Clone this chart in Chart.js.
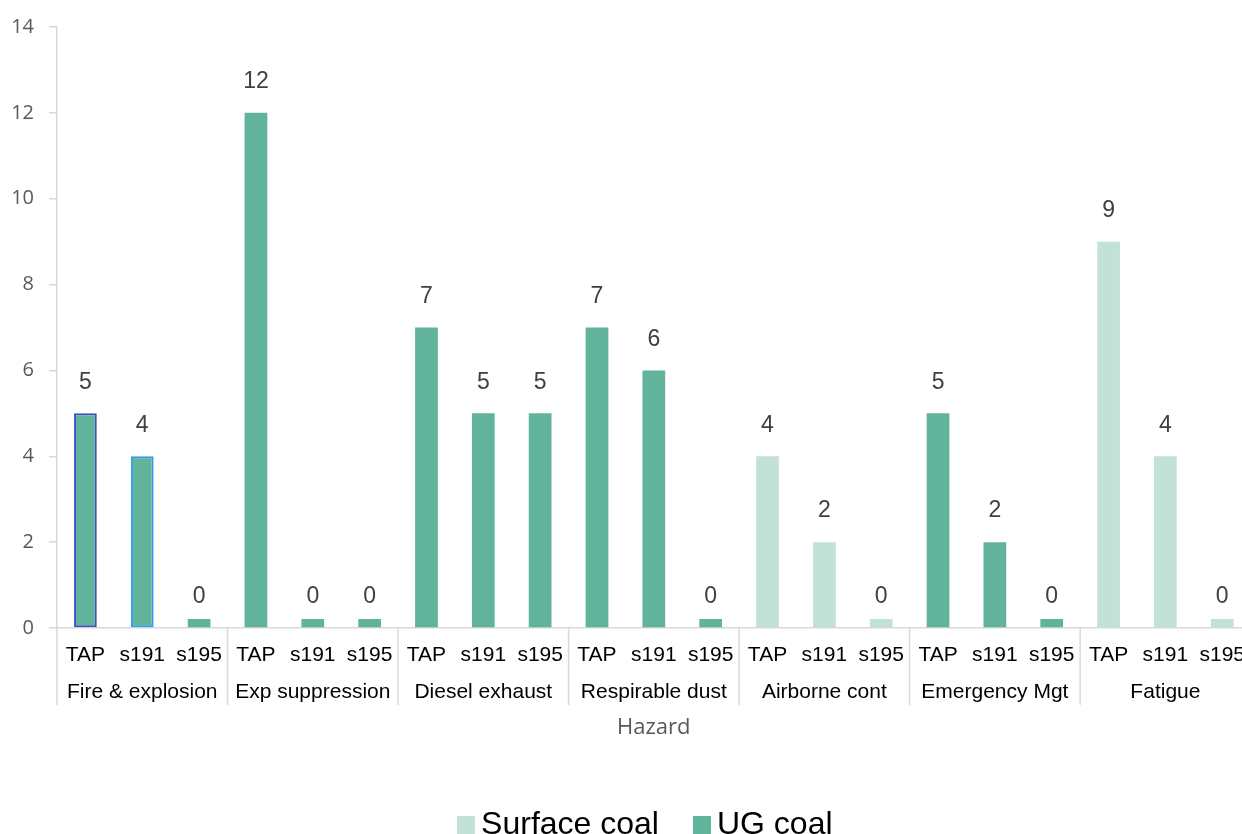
<!DOCTYPE html>
<html>
<head>
<meta charset="utf-8">
<script src="https://cdn.jsdelivr.net/npm/chart.js@4"></script>
<style>
  html, body { margin: 0; padding: 0; background: #fff; overflow: hidden; width: 1242px; height: 834px; }
  canvas { display: block; }
</style>
</head>
<body>
<canvas id="chart" width="1252" height="850"></canvas>
<script>
// Hazard groups and the three sources inside each group
const hazards = ['Fire & explosion', 'Exp suppression', 'Diesel exhaust', 'Respirable dust', 'Airborne cont', 'Emergency Mgt', 'Fatigue'];
const sources = ['TAP', 's191', 's195'];

// Counts per hazard/source; null where the series has no bar
const surfaceCoal = [null, null, null, null, null, null, null, null, null, null, null, null, 4, 2, 0, null, null, null, 9, 4, 0];
const ugCoal      = [5, 4, 0, 12, 0, 0, 7, 5, 5, 7, 6, 0, null, null, null, 5, 2, 0, null, null, null];

const yTicks = [0, 2, 4, 6, 8, 10, 12, 14];

const labels = hazards.flatMap(() => sources);

const SURFACE_COLOR = '#c2e2d8';
const UG_COLOR = '#62b39c';
const AXIS_GREY = '#d9d9d9';
const SANS = '"Liberation Sans", Arial, sans-serif';

// Outline colours for the first two underground bars
const ugBorderColor = ugCoal.map((v, i) => i === 0 ? '#3f4fc0' : (i === 1 ? '#2b9cf0' : UG_COLOR));
const ugBorderWidth = ugCoal.map((v, i) => (i < 2 ? 2 : 0));

// Value labels above every bar
const valueLabels = {
  id: 'valueLabels',
  afterDatasetsDraw(chart) {
    const { ctx, scales: { x, y } } = chart;
    ctx.save();
    ctx.font = '23px ' + SANS;
    ctx.fillStyle = '#404040';
    ctx.textAlign = 'center';
    ctx.textBaseline = 'middle';
    chart.data.datasets.forEach(ds => {
      ds.data.forEach((v, i) => {
        if (v === null) return;
        ctx.fillText(String(v), x.getPixelForValue(i), y.getPixelForValue(v) - 31);
      });
    });
    ctx.restore();
  }
};

// Second row of the category axis: hazard names, dividers, axis title and legend
const hazardAxis = {
  id: 'hazardAxis',
  afterDraw(chart) {
    const { ctx, chartArea, scales: { x } } = chart;
    const step = x.getPixelForValue(1) - x.getPixelForValue(0);
    const bottom = chartArea.bottom;
    ctx.save();
    ctx.strokeStyle = AXIS_GREY;
    ctx.lineWidth = 1.5;
    for (let k = 0; k <= hazards.length; k++) {
      const gx = x.getPixelForValue(3 * k) - step / 2;
      ctx.beginPath();
      ctx.moveTo(gx, bottom);
      ctx.lineTo(gx, bottom + 77);
      ctx.stroke();
    }
    ctx.font = '21px ' + SANS;
    ctx.fillStyle = '#000';
    ctx.textAlign = 'center';
    ctx.textBaseline = 'middle';
    hazards.forEach((h, k) => {
      ctx.fillText(h, x.getPixelForValue(3 * k + 1), bottom + 64);
    });

    // axis title
    ctx.font = '22px "Open Sans", sans-serif';
    ctx.fillStyle = '#595959';
    ctx.fillText('Hazard', (chartArea.left + chartArea.right) / 2, bottom + 100);

    // legend
    ctx.font = '32px ' + SANS;
    ctx.textAlign = 'left';
    ctx.textBaseline = 'alphabetic';
    const box = 18, gapText = 6, gapItem = 34;
    const items = chart.data.datasets.map(ds => ({ text: ds.label, color: ds.backgroundColor }));
    const widths = items.map(it => box + gapText + ctx.measureText(it.text).width);
    const total = widths.reduce((a, b) => a + b, 0) + gapItem * (items.length - 1);
    let lx = (chartArea.left + chartArea.right) / 2 - 9 - total / 2;
    const baseline = bottom + 206;
    items.forEach((it, i) => {
      ctx.fillStyle = it.color;
      ctx.fillRect(lx, baseline - box, box, box);
      ctx.fillStyle = '#000';
      ctx.fillText(it.text, lx + box + gapText, baseline);
      lx += widths[i] + gapItem;
    });
    ctx.restore();
  }
};

new Chart(document.getElementById('chart'), {
  type: 'bar',
  data: {
    labels: labels,
    datasets: [
      {
        label: 'Surface coal',
        data: surfaceCoal,
        backgroundColor: SURFACE_COLOR,
        borderWidth: 0,
        minBarLength: 9
      },
      {
        label: 'UG coal',
        data: ugCoal,
        backgroundColor: UG_COLOR,
        borderColor: ugBorderColor,
        borderWidth: ugBorderWidth,
        borderSkipped: false,
        minBarLength: 9
      }
    ]
  },
  options: {
    responsive: false,
    animation: false,
    devicePixelRatio: 1,
    layout: { padding: { top: 27, right: 0, bottom: 52, left: 0 } },
    datasets: {
      bar: { grouped: false, barPercentage: 0.4, categoryPercentage: 1.0 }
    },
    plugins: {
      legend: { display: false },
      tooltip: { enabled: false }
    },
    scales: {
      x: {
        grid: { display: false },
        border: { color: AXIS_GREY, width: 1.5 },
        ticks: {
          font: { family: SANS, size: 21 },
          color: '#000',
          padding: 7,
          autoSkip: false,
          maxRotation: 0,
          minRotation: 0
        },
        afterFit(scale) { scale.height = 170; }
      },
      y: {
        min: 0,
        max: 14,
        afterBuildTicks(scale) { scale.ticks = yTicks.map(v => ({ value: v })); },
        grid: { drawOnChartArea: false, color: AXIS_GREY, lineWidth: 1.5, tickLength: 8 },
        border: { color: AXIS_GREY, width: 1.5 },
        ticks: {
          font: { family: '"Open Sans", sans-serif', size: 20 },
          color: '#595959',
          padding: 15
        },
        afterFit(scale) { scale.width = 57; }
      }
    }
  },
  plugins: [valueLabels, hazardAxis]
});
</script>
</body>
</html>
